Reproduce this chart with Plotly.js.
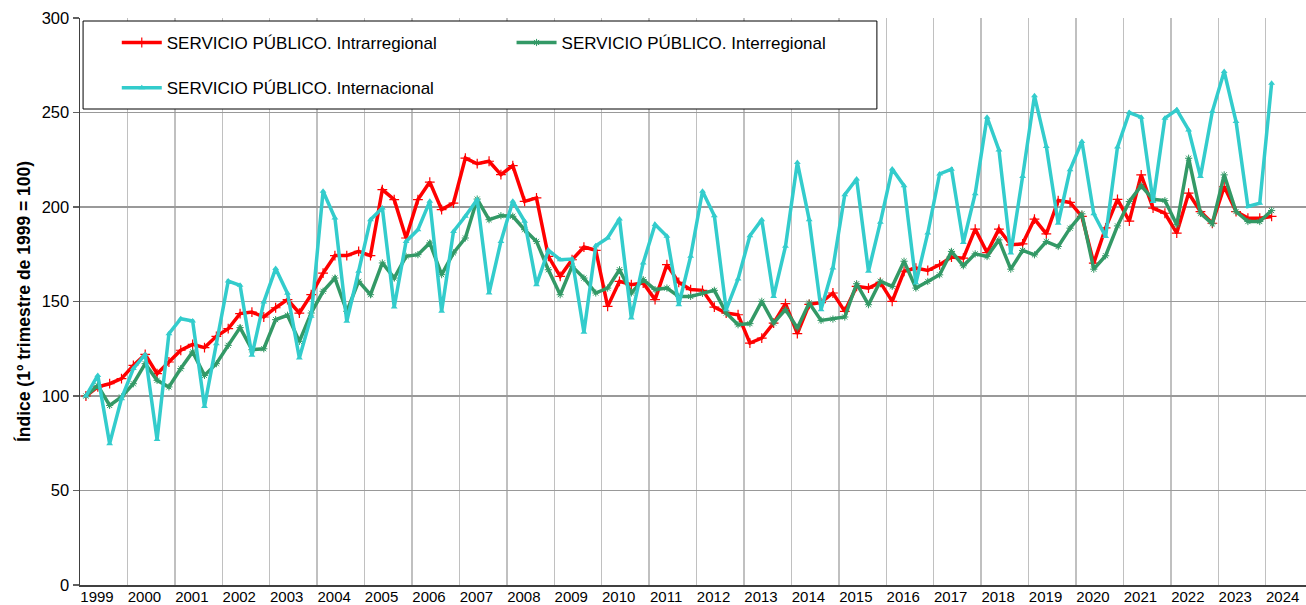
<!DOCTYPE html>
<html>
<head>
<meta charset="utf-8">
<script src="https://cdn.plot.ly/plotly-3.0.1.min.js"></script>
<style>html,body{margin:0;padding:0;overflow:hidden;background:#fff}#chart{width:1306px;height:605px}</style>
</head>
<body>
<div id="chart"></div>
<script>
const years = ['1999','2000','2001','2002','2003','2004','2005','2006','2007','2008','2009','2010','2011','2012','2013','2014','2015','2016','2017','2018','2019','2020','2021','2022','2023','2024'];

const intrarregional = [100,104.8,106.5,109.2,116.2,122,111.8,118,124.2,127.3,125.6,131.6,135.6,143.6,144.4,141.8,146.7,151,143.9,153.6,165,174.3,174.3,176.5,174.3,209.2,203.9,183.6,203.9,213.2,198.6,202.1,225.9,222.9,224.2,217.1,221.9,203,204.8,173.9,163.3,172.1,178.8,177.1,147.4,160.7,158.9,159.8,151,169.5,160.1,156.3,155.9,147,143.9,143,128,130.6,138.6,148.9,133,148.5,149.4,154.5,144.8,158,157.1,160.1,150.1,166,167.7,166.4,169.4,173.5,172.9,188.3,175.9,188.3,180,180.5,193.6,185.8,203.4,202.4,195,170.3,189,204,192.5,217,199.4,196.7,186.2,207.3,197.6,191.4,210.8,197.6,194.1,194.1,195];

const interregional = [100,105.6,95,99.5,106.5,117.1,108.3,104.8,114.5,123.3,110.9,117.1,126.8,136.2,124.5,125,140.4,142.7,128.9,143.9,155.4,162.4,144.8,160.7,153.6,170.4,162.4,173.9,174.8,181,164.2,175.7,183.6,204.2,193.3,195.4,195.1,188,181.8,166.8,153.6,168.6,162.4,154.5,157.1,166.8,154.5,161.6,156.3,157.1,152.7,152.7,154.3,155.9,143.9,137.7,138.3,150.1,138.6,145.7,136,149.2,140,140.7,141.8,159.4,148.3,160.7,158,171.3,157.1,160.6,164.1,176.5,168.9,175.2,173.8,182.6,167.1,177,174.7,181.7,179.1,188.8,196.4,167.1,174.2,190,202.9,211.2,204.1,203.4,190.6,225.8,196.7,191.1,217,197.6,192.3,192.3,198.1];

const internacional = [100,110.9,74.8,98.6,114.5,122,77,133,140.9,139.7,94.5,127.7,160.8,158.6,121.5,149.7,167.4,154.3,120.1,142.2,208.3,194.2,139.5,166,193.3,199.5,147.1,181.8,188,203,144.8,187.1,195.1,203.9,154.5,181.8,203,192.4,158.9,177.1,172.1,172.5,133.7,179.5,183.6,193.7,141.3,170.4,190.7,184.5,148.3,173.9,208.3,195.4,145.7,161.9,184.8,193.3,152.7,179.2,223.6,193.3,145.7,167.7,206.5,214.8,166,191.9,220.1,211.3,159.8,186.2,217.5,220,181.2,207,247.5,230.2,175.6,216.1,258.8,232,191.4,219.7,234.7,196.4,184.4,231.7,250,247.5,202.9,247,251.4,240.8,216.1,250.5,271.7,245.2,200.3,202,265.5];

const seriesNames = ['SERVICIO PÚBLICO. Intrarregional','SERVICIO PÚBLICO. Interregional','SERVICIO PÚBLICO. Internacional'];
const seriesColors = ['#FF0000','#339966','#33CCCC'];

const idx = arr => arr.map((_, i) => i);
const FONT = 'Liberation Sans, Arial, sans-serif';

const traces = [
  {x: idx(intrarregional), y: intrarregional, name: seriesNames[0], type: 'scatter', mode: 'lines+markers',
   line: {color: seriesColors[0], width: 3.5},
   marker: {symbol: 'cross-thin-open', size: 7, color: seriesColors[0], line: {color: seriesColors[0], width: 1.2}},
   legend: 'legend'},
  {x: idx(interregional), y: interregional, name: seriesNames[1], type: 'scatter', mode: 'lines+markers',
   line: {color: seriesColors[1], width: 3.5},
   marker: {symbol: 'asterisk-open', size: 6, color: seriesColors[1], line: {color: seriesColors[1], width: 1}},
   legend: 'legend2'},
  {x: idx(internacional), y: internacional, name: seriesNames[2], type: 'scatter', mode: 'lines+markers',
   line: {color: seriesColors[2], width: 3.5},
   marker: {symbol: 'triangle-up', size: 6, color: seriesColors[2]},
   legend: 'legend3'}
];

const legendBase = {
  bgcolor: 'rgba(0,0,0,0)', borderwidth: 0, xanchor: 'left', yanchor: 'middle',
  font: {family: FONT, size: 17, color: '#000'}, itemwidth: 40
};

const layout = {
  width: 1306, height: 605,
  margin: {l: 80, r: 0, t: 18, b: 20},
  paper_bgcolor: '#fff', plot_bgcolor: '#fff',
  font: {family: FONT, color: '#000'},
  showlegend: true,
  legend: Object.assign({}, legendBase, {x: 0.030, y: 0.956}),
  legend2: Object.assign({}, legendBase, {x: 0.352, y: 0.956}),
  legend3: Object.assign({}, legendBase, {x: 0.030, y: 0.876}),
  xaxis: {
    range: [-0.5, 102.9],
    tickmode: 'array',
    tickvals: years.map((_, k) => 4 * k - 0.5),
    ticktext: years,
    ticklabelshift: 17,
    ticklabelstandoff: -3,
    ticks: '',
    showgrid: true, gridcolor: '#C0C0C0', gridwidth: 1.5,
    showline: true, linecolor: '#404040', linewidth: 1.5,
    zeroline: false,
    tickfont: {family: FONT, size: 15, color: '#000'}
  },
  yaxis: {
    range: [0, 300], dtick: 50, tick0: 0,
    ticks: 'outside', ticklen: 6, tickcolor: '#606060', tickwidth: 1.3,
    showgrid: true, gridcolor: '#999999', gridwidth: 1.5,
    showline: true, linecolor: '#404040', linewidth: 1.5,
    zeroline: false,
    tickfont: {family: FONT, size: 16.5, color: '#000'},
    title: {text: 'Índice (1º trimestre de 1999 = 100)', font: {family: FONT, size: 17.5, color: '#000', weight: 'bold'}, standoff: 6}
  },
  shapes: [
    {type: 'rect', xref: 'paper', yref: 'paper', x0: 0.0025, x1: 0.650, y0: 0.8395, y1: 0.9947,
     line: {color: '#000', width: 1}, fillcolor: '#fff', layer: 'above'}
  ]
};

Plotly.newPlot('chart', traces, layout, {displayModeBar: false, staticPlot: true});
</script>
</body>
</html>
